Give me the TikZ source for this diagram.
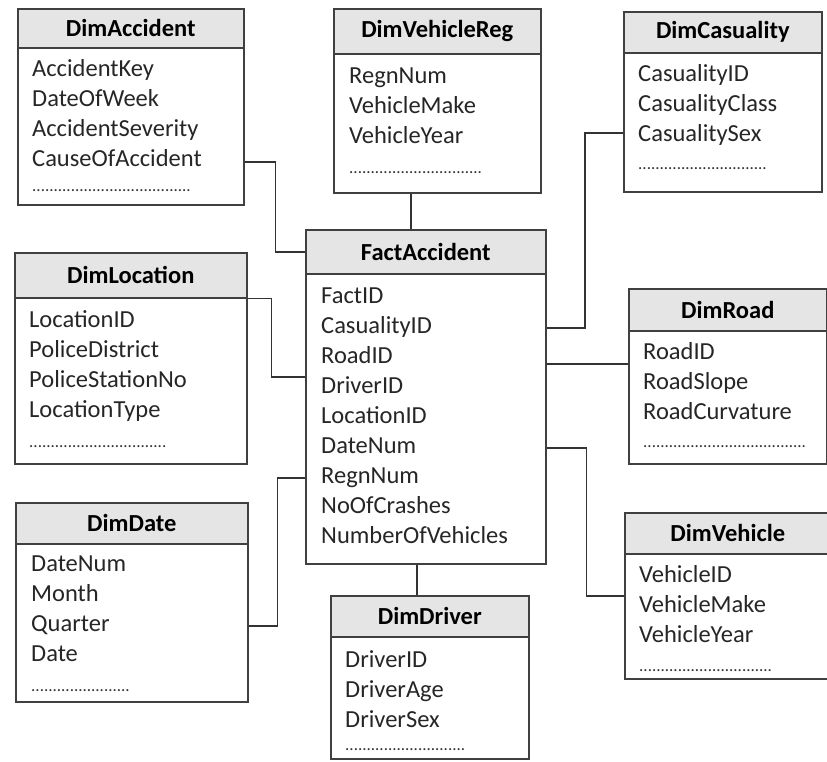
\documentclass[tikz,border=0pt]{standalone}
\usepackage{fontspec}
\setmainfont{Carlito}
\usepackage{tikz}
\usetikzlibrary{positioning}
\tikzset{tblhead/.style={rectangle, draw=black!75, fill=black!10, line width=1.6pt, anchor=north west, inner sep=0pt, font=\fontsize{24.5}{27}\selectfont\bfseries}}
\tikzset{tblbody/.style={rectangle, draw=black!75, fill=white, line width=1.6pt, anchor=north west, inner sep=0pt}}
\tikzset{field/.style={anchor=base west, inner sep=0pt, text height=14pt, text depth=4pt, text=black!85, font=\fontsize{24.5}{28}\selectfont}}
\tikzset{dotsrow/.style={anchor=base west, inner sep=0pt, text=black!80, font=\fontsize{17}{20}\selectfont}}
\tikzset{link/.style={draw=black!80, line width=1.6pt}}
\newcommand{\dotrun}[1]{\foreach \k in {1,...,#1}{.}}

\begin{document}
\begin{tikzpicture}[x=1pt, y=-1pt]
    \useasboundingbox (0,0) rectangle (827,762);

    % DimAccident
    \node [tblbody, minimum width=226pt, minimum height=157pt](accB) at (17,47) {};
    \node [tblhead, minimum width=226pt, minimum height=39pt](accH) at (17,8) {DimAccident};
    \node [field](acc1) at (32,77) {AccidentKey};
    \node [field](acc2) at (32,107) {DateOfWeek};
    \node [field](acc3) at (32,137) {AccidentSeverity};
    \node [field](acc4) at (32,167) {CauseOfAccident};
    \node [dotsrow](accD) at (32,192) {\dotrun{37}};

    % DimVehicleReg
    \node [tblbody, minimum width=207pt, minimum height=139pt](vregB) at (333,53) {};
    \node [tblhead, minimum width=207pt, minimum height=45pt](vregH) at (333,8) {DimVehicleReg};
    \node [field](vreg1) at (349,84) {RegnNum};
    \node [field](vreg2) at (349,114) {VehicleMake};
    \node [field](vreg3) at (349,144) {VehicleYear};
    \node [dotsrow](vregD) at (349,174) {\dotrun{31}};

    % DimCasuality
    \node [tblbody, minimum width=198pt, minimum height=139pt](casB) at (623,52) {};
    \node [tblhead, minimum width=198pt, minimum height=41pt](casH) at (623,11) {DimCasuality};
    \node [field](cas1) at (638,82) {CasualityID};
    \node [field](cas2) at (638,112) {CasualityClass};
    \node [field](cas3) at (638,142) {CasualitySex};
    \node [dotsrow](casD) at (638,170) {\dotrun{30}};

    % FactAccident
    \node [tblbody, minimum width=240pt, minimum height=290pt](factB) at (305,273) {};
    \node [tblhead, minimum width=240pt, minimum height=44pt](factH) at (305,229) {FactAccident};
    \node [field](f1) at (321,303) {FactID};
    \node [field](f2) at (321,333) {CasualityID};
    \node [field](f3) at (321,363) {RoadID};
    \node [field](f4) at (321,393) {DriverID};
    \node [field](f5) at (321,423) {LocationID};
    \node [field](f6) at (321,453) {DateNum};
    \node [field](f7) at (321,483) {RegnNum};
    \node [field](f8) at (321,513) {NoOfCrashes};
    \node [field](f9) at (321,543) {NumberOfVehicles};

    % DimLocation
    \node [tblbody, minimum width=232pt, minimum height=166pt](locB) at (14,297) {};
    \node [tblhead, minimum width=232pt, minimum height=45pt](locH) at (14,252) {DimLocation};
    \node [field](loc1) at (29,327) {LocationID};
    \node [field](loc2) at (29,357) {PoliceDistrict};
    \node [field](loc3) at (29,387) {PoliceStationNo};
    \node [field](loc4) at (29,417) {LocationType};
    \node [dotsrow](locD) at (29,447) {\dotrun{32}};

    % DimRoad
    \node [tblbody, minimum width=198pt, minimum height=133pt](roadB) at (628,330) {};
    \node [tblhead, minimum width=198pt, minimum height=42pt](roadH) at (628,288) {DimRoad};
    \node [field](road1) at (643,359) {RoadID};
    \node [field](road2) at (643,389) {RoadSlope};
    \node [field](road3) at (643,419) {RoadCurvature};
    \node [dotsrow](roadD) at (643,447) {\dotrun{38}};

    % DimDate
    \node [tblbody, minimum width=232pt, minimum height=158pt](dateB) at (15,543) {};
    \node [tblhead, minimum width=232pt, minimum height=41pt](dateH) at (15,502) {DimDate};
    \node [field](date1) at (31,571) {DateNum};
    \node [field](date2) at (31,601) {Month};
    \node [field](date3) at (31,631) {Quarter};
    \node [field](date4) at (31,661) {Date};
    \node [dotsrow](dateD) at (31,691) {\dotrun{23}};

    % DimDriver
    \node [tblbody, minimum width=198pt, minimum height=122pt](drvB) at (330,636) {};
    \node [tblhead, minimum width=198pt, minimum height=41pt](drvH) at (330,595) {DimDriver};
    \node [field](drv1) at (345,667) {DriverID};
    \node [field](drv2) at (345,697) {DriverAge};
    \node [field](drv3) at (345,727) {DriverSex};
    \node [dotsrow](drvD) at (345,750) {\dotrun{28}};

    % DimVehicle
    \node [tblbody, minimum width=206pt, minimum height=125pt](vehB) at (624,553) {};
    \node [tblhead, minimum width=206pt, minimum height=41pt](vehH) at (624,512) {DimVehicle};
    \node [field](veh1) at (639,582) {VehicleID};
    \node [field](veh2) at (639,612) {VehicleMake};
    \node [field](veh3) at (639,642) {VehicleYear};
    \node [dotsrow](vehD) at (639,671) {\dotrun{31}};

    \draw[link] (acc4.west -| accB.east) -- ++(31,0) |- (factH.west);
    \draw[link] ([xshift=-26.5pt]vregB.south) -- ([xshift=-26.5pt]vregB.south |- factH.north);
    \draw[link] ([yshift=4pt]cas3.west -| casB.west) -- ++(-38,0) |- (f2.west -| factB.east);
    \draw[link] ([yshift=-6pt]f3.west -| factB.east) -- ([yshift=-6pt]f3.west -| roadB.west);
    \draw[link] (f6.west -| factB.east) -- ++(40,0) |- ([yshift=-19pt]veh1.west -| vehB.west);
    \draw[link] (locH.south east) -- ++(24,0) |- ([yshift=11pt]f4.west -| factB.west);
    \draw[link] (date3.west -| dateB.east) -- ++(29,0) |- (f7.west -| factB.west);
    \draw[link] ([xshift=-9pt]factB.south) -- ([xshift=-9pt]factB.south |- drvH.north);
\end{tikzpicture}
\end{document}
